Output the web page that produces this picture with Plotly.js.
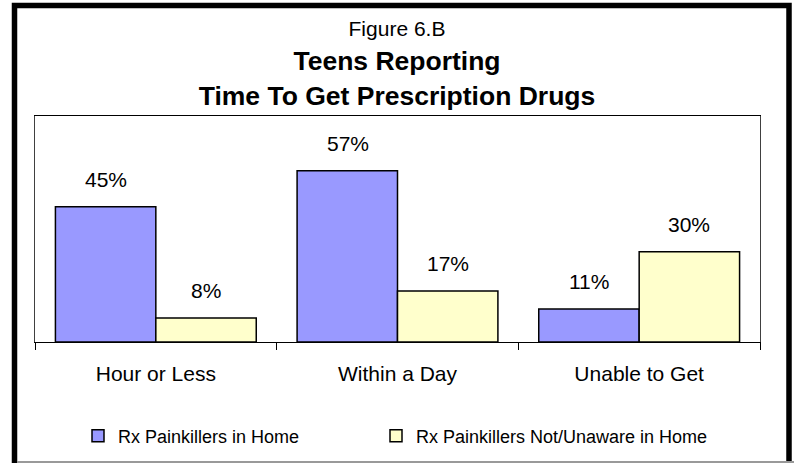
<!DOCTYPE html>
<html>
<head>
<meta charset="utf-8">
<script src="https://cdn.plot.ly/plotly-3.0.1.min.js"></script>
<style>
  html, body { margin: 0; padding: 0; background: #ffffff; }
  #chart { width: 794px; height: 463px; }
</style>
</head>
<body>
<div id="chart"></div>
<script>
// ---- data ----
const categories = ["Hour or Less", "Within a Day", "Unable to Get"];
const inHome = [45, 57, 11];
const notInHome = [8, 17, 30];
const seriesNames = ["Rx Painkillers in Home", "Rx Painkillers Not/Unaware in Home"];
const titleLines = ["Figure 6.B", "Teens Reporting", "Time To Get Prescription Drugs"];

// ---- geometry helpers (plot area in pixels) ----
const W = 794, H = 463;
const M = { l: 35, r: 34, t: 116, b: 121, autoexpand: false };
const plotW = W - M.l - M.r, plotH = H - M.t - M.b;
const px = x => (x - M.l) / plotW;          // pixel x -> paper
const py = y => (H - M.b - y) / plotH;      // pixel y -> paper

const FONT = "Liberation Sans, Arial, Helvetica, sans-serif";
const colors = ["#9999FF", "#FFFFCC"];
const legendIds = ["legend", "legend2"];

const traces = [inHome, notInHome].map((vals, i) => ({
  type: "bar",
  name: seriesNames[i],
  x: categories,
  y: vals,
  legend: legendIds[i],
  marker: { color: colors[i], line: { color: "#000000", width: 1.5 } },
  hoverinfo: "none"
}));

// value labels above the bars
const groupShift = 50;
const annotations = [];
[inHome, notInHome].forEach((vals, i) => {
  vals.forEach((v, j) => {
    annotations.push({
      x: categories[j], y: v, xref: "x", yref: "y",
      text: v + "%", showarrow: false,
      xshift: i === 0 ? -groupShift : groupShift,
      yshift: 27, yanchor: "middle",
      font: { family: FONT, size: 21, color: "#000000" }
    });
  });
});

const shapes = [
  // chart border (black, thick)
  { type: "rect", xref: "paper", yref: "paper", x0: px(14.5), x1: px(789), y0: py(5.5), y1: py(472),
    line: { color: "#000000", width: 5.5 }, fillcolor: "rgba(0,0,0,0)", layer: "above" },
  { type: "line", xref: "paper", yref: "paper", x0: px(17), x1: px(794), y0: py(462), y1: py(462),
    line: { color: "#999999", width: 2 }, layer: "above" }
];

const legendBase = {
  orientation: "h",
  xanchor: "left",
  y: py(436), yanchor: "middle",
  font: { family: FONT, size: 18, color: "#000000" },
  bgcolor: "rgba(0,0,0,0)", borderwidth: 0
};

const layout = {
  width: W, height: H,
  margin: M,
  paper_bgcolor: "#ffffff",
  plot_bgcolor: "#ffffff",
  font: { family: FONT, color: "#000000" },
  title: {
    text: '<span style="font-size:21px">' + titleLines[0] + '</span><br><b>' + titleLines[1] + '</b><br><b>' + titleLines[2] + '</b>',
    font: { family: FONT, size: 26.5, color: "#000000" },
    x: 0.5, xref: "container", xanchor: "center",
    y: 1 - 36 / H, yref: "container", yanchor: "top"
  },
  barmode: "group",
  bargap: 0.169,
  bargroupgap: 0,
  xaxis: {
    type: "category", automargin: false,
    showline: true, linecolor: "#000000", linewidth: 1, mirror: true,
    ticks: "outside", tickson: "boundaries", ticklen: 7, tickcolor: "#000000", tickwidth: 1,
    ticklabelstandoff: 13,
    tickfont: { family: FONT, size: 21, color: "#000000" },
    showgrid: false, zeroline: false, fixedrange: true
  },
  yaxis: {
    range: [0, 75.2], automargin: false,
    showline: true, linecolor: "#404040", linewidth: 1, mirror: true,
    showticklabels: false, ticks: "", showgrid: false, zeroline: false, fixedrange: true
  },
  showlegend: true,
  legend: Object.assign({}, legendBase, { x: px(78) }),
  legend2: Object.assign({}, legendBase, { x: px(376) }),
  annotations: annotations,
  shapes: shapes
};

Plotly.newPlot("chart", traces, layout, { staticPlot: true, displayModeBar: false });
</script>
</body>
</html>
